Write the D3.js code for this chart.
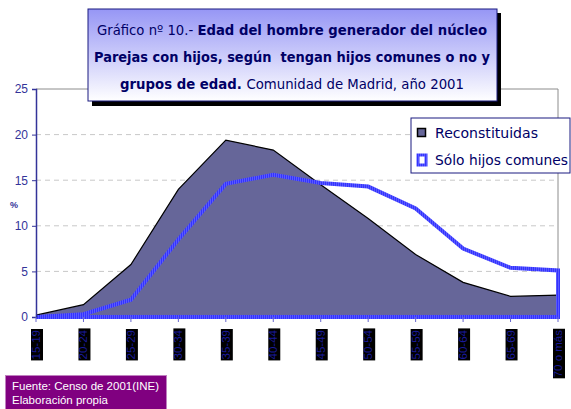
<!DOCTYPE html>
<html>
<head>
<meta charset="utf-8">
<script src="https://cdn.jsdelivr.net/npm/d3@7"></script>
<style>
    body { margin: 0; background: #fff; }
    svg { display: block; }
</style>
</head>
<body>
<svg id="chart" width="571" height="409"></svg>
<script>
// grupos de edad
const ageGroups = ['15-19', '20-24', '25-29', '30-34', '35-39', '40-44', '45-49', '50-54', '55-59', '60-64', '65-69', '70 o más']
// % reconstituidas
const reconstituidas = [0.2, 1.35, 5.75, 14.0, 19.4, 18.3, 14.5, 10.8, 6.85, 3.8, 2.26, 2.4]
// % sólo hijos comunes
const soloComunes = [0.0, 0.3, 1.9, 8.5, 14.6, 15.6, 14.7, 14.3, 11.9, 7.5, 5.4, 5.1]
const yTicks = [0, 5, 10, 15, 20, 25]

const navy = '#1a1a80'
const comic = '"Comic Sans MS", "DejaVu Sans", sans-serif'

const svg = d3.select('#chart')
const defs = svg.append('defs')

// degradado del título
const grad = defs.append('linearGradient')
    .attr('id', 'titleGrad')
    .attr('x1', 0).attr('y1', 0).attr('x2', 0).attr('y2', 1)
grad.append('stop').attr('offset', '0%').attr('stop-color', '#9696f5')
grad.append('stop').attr('offset', '100%').attr('stop-color', '#ffffff')

// trama vertical de la línea azul
const pat = defs.append('pattern')
    .attr('id', 'bluePat')
    .attr('patternUnits', 'userSpaceOnUse')
    .attr('width', 2).attr('height', 2)
pat.append('rect').attr('width', 2).attr('height', 2).attr('fill', '#3333ff')
pat.append('rect').attr('width', 1).attr('height', 2).attr('fill', '#5a5aff')

const x = d3.scalePoint()
    .domain(ageGroups)
    .range([36, 558])

const y = d3.scaleLinear()
    .domain([0, 25])
    .range([317, 89])

// rejilla
svg.append('g')
    .selectAll('line')
    .data(yTicks.filter(t => t > 0 && t < 25))
    .join('line')
    .attr('x1', 36).attr('x2', 558)
    .attr('y1', d => y(d)).attr('y2', d => y(d))
    .attr('stroke', '#c8c8c8')
    .attr('stroke-dasharray', '5,4')

// borde del área de trazado (arriba y derecha)
svg.append('path')
    .attr('d', `M36,${y(25)}H558V${y(0)}`)
    .attr('fill', 'none')
    .attr('stroke', '#8c8c8c')
    .attr('stroke-width', 1)

// área reconstituidas
const area = d3.area()
    .x((d, i) => x(ageGroups[i]))
    .y0(y(0))
    .y1(d => y(d))
svg.append('path')
    .datum(reconstituidas)
    .attr('d', area)
    .attr('fill', '#666699')

svg.append('path')
    .datum(reconstituidas)
    .attr('d', d3.line().x((d, i) => x(ageGroups[i])).y(d => y(d)))
    .attr('fill', 'none')
    .attr('stroke', '#000')
    .attr('stroke-width', 1.2)

// área sólo hijos comunes, solo el contorno
svg.append('path')
    .datum(soloComunes)
    .attr('d', d => area(d) + 'Z')
    .attr('fill', 'none')
    .attr('stroke', 'url(#bluePat)')
    .attr('stroke-width', 4)
    .attr('stroke-linejoin', 'miter')

// eje y
const yAxis = svg.append('g')
    .attr('transform', 'translate(36,0)')
    .call(d3.axisLeft(y).tickValues(yTicks).tickSize(4).tickPadding(4))
yAxis.select('.domain').attr('stroke', '#333399').attr('stroke-width', 1.5)
yAxis.selectAll('.tick line').attr('stroke', '#333399')
yAxis.selectAll('.tick text')
    .attr('fill', '#333399')
    .style('font', '12px Arial, "Liberation Sans", sans-serif')

svg.append('text')
    .attr('x', 14).attr('y', 208)
    .attr('text-anchor', 'middle')
    .attr('fill', '#333399')
    .style('font', 'bold 9px Arial, "Liberation Sans", sans-serif')
    .text('%')

// eje x: solo marcas
svg.append('g')
    .selectAll('line')
    .data(ageGroups)
    .join('line')
    .attr('x1', d => x(d)).attr('x2', d => x(d))
    .attr('y1', y(0)).attr('y2', y(0) + 5)
    .attr('stroke', '#6666cc')

// etiquetas giradas con fondo negro
const labels = svg.append('g')
    .selectAll('g')
    .data(ageGroups)
    .join('g')
    .attr('transform', d => `translate(${x(d) + 4},330) rotate(-90)`)

labels.append('text')
    .attr('text-anchor', 'end')
    .attr('fill', '#1a1a99')
    .style('font', '11.5px Arial, "Liberation Sans", sans-serif')
    .text(d => d)

labels.each(function () {
    const g = d3.select(this)
    const bb = g.select('text').node().getBBox()
    g.insert('rect', 'text')
        .attr('x', bb.x - 1).attr('y', bb.y + 1)
        .attr('width', bb.width + 2).attr('height', bb.height)
        .attr('fill', '#000')
})

// caja del título
svg.append('rect')
    .attr('x', 92).attr('y', 13)
    .attr('width', 409).attr('height', 93)
    .attr('fill', '#000')
svg.append('rect')
    .attr('x', 88).attr('y', 9)
    .attr('width', 409).attr('height', 92)
    .attr('fill', 'url(#titleGrad)')
    .attr('stroke', navy)
    .attr('stroke-width', 1)

const titleLines = [
    [['Gráfico nº 10.- ', 'normal'], ['Edad del hombre generador del núcleo', 'bold']],
    [['Parejas con hijos, según  tengan hijos comunes o no y', 'bold']],
    [['grupos de edad. ', 'bold'], ['Comunidad de Madrid, año 2001', 'normal']],
]
const titleBase = [35, 62, 89]
const titleWidth = [390, 396, 344]

titleLines.forEach((parts, i) => {
    const t = svg.append('text')
        .attr('x', 292).attr('y', titleBase[i])
        .attr('text-anchor', 'middle')
        .attr('fill', '#000066')
        .attr('textLength', titleWidth[i])
        .attr('lengthAdjust', 'spacingAndGlyphs')
        .style('font-family', comic)
        .style('font-size', '13.5px')
        .style('white-space', 'pre')
    parts.forEach(([s, w]) => {
        t.append('tspan').attr('font-weight', w).text(s)
    })
})

// leyenda
const leg = svg.append('g')
leg.append('rect')
    .attr('x', 411).attr('y', 118)
    .attr('width', 159).attr('height', 55)
    .attr('fill', '#fff')
    .attr('stroke', navy)
    .attr('stroke-width', 1)

leg.append('rect')
    .attr('x', 417.5).attr('y', 128.5)
    .attr('width', 8).attr('height', 8)
    .attr('fill', '#666699')
    .attr('stroke', '#000')
    .attr('stroke-width', 1.5)

leg.append('rect')
    .attr('x', 418).attr('y', 155)
    .attr('width', 8).attr('height', 10)
    .attr('fill', '#fff')
    .attr('stroke', 'url(#bluePat)')
    .attr('stroke-width', 3)

const legendNames = ['Reconstituidas', 'Sólo hijos comunes']
const legendWidth = [103, 133]
leg.selectAll('text.lg')
    .data(legendNames)
    .join('text')
    .attr('class', 'lg')
    .attr('x', 435)
    .attr('y', (d, i) => 138 + i * 27)
    .attr('fill', '#000066')
    .attr('textLength', (d, i) => legendWidth[i])
    .attr('lengthAdjust', 'spacingAndGlyphs')
    .style('font-family', comic)
    .style('font-size', '14px')
    .text(d => d)

// fuente
svg.append('rect')
    .attr('x', 5.5).attr('y', 375.5)
    .attr('width', 161).attr('height', 34)
    .attr('fill', '#800080')
    .attr('stroke', '#c080c0')
    .attr('stroke-width', 1)

svg.append('g')
    .selectAll('text')
    .data(['Fuente: Censo de 2001(INE)', 'Elaboración propia'])
    .join('text')
    .attr('x', 12)
    .attr('y', (d, i) => 390 + i * 14)
    .attr('fill', '#fff')
    .style('font', '11.5px Arial, "Liberation Sans", sans-serif')
    .text(d => d)
</script>
</body>
</html>
